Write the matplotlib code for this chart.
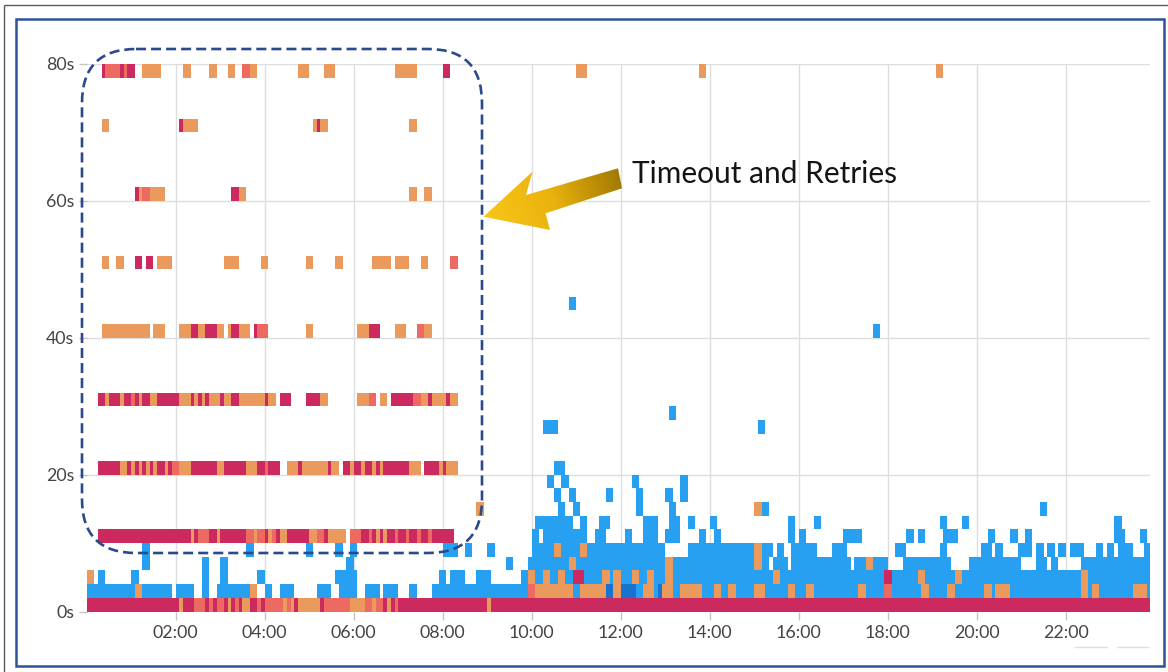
import numpy as np
import matplotlib
matplotlib.use("Agg")
import matplotlib.pyplot as plt
from matplotlib.colors import ListedColormap, BoundaryNorm, LinearSegmentedColormap
from matplotlib.patches import FancyBboxPatch, Polygon, Rectangle

# ---------------------------------------------------------------------------
# Latency heatmap: 5-minute time buckets (bin index) x 2-second latency buckets.
# Each row lists (first_bin, end_bin, level) runs; levels: b=low count (blue),
# d=low-mid (dark blue), o=mid (orange), s=high (salmon), r=highest (crimson).
# ---------------------------------------------------------------------------
BIN_MINUTES = 5
N_BINS = 288
ROW_SECONDS = 2

row_00 = [(0, 25, 'r'), (25, 26, 'o'), (26, 29, 'r'), (29, 32, 's'), (32, 33, 'r'),
          (33, 34, 's'), (34, 35, 'r'), (35, 37, 's'), (37, 38, 'r'), (38, 39, 'o'),
          (39, 40, 'r'), (40, 41, 's'), (41, 42, 'r'), (42, 44, 'o'), (44, 46, 'r'),
          (46, 47, 's'), (47, 48, 'r'), (48, 53, 's'), (53, 54, 'o'), (54, 55, 's'),
          (55, 56, 'o'), (56, 57, 'r'), (57, 63, 'o'), (63, 64, 'r'), (64, 71, 's'),
          (71, 75, 'o'), (75, 77, 's'), (77, 78, 'o'), (78, 80, 's'), (80, 81, 'r'),
          (81, 82, 'o'), (82, 83, 'r'), (83, 84, 's'), (84, 108, 'r'), (108, 109, 'o'),
          (109, 288, 'r')]

row_02 = [(0, 13, 'b'), (13, 15, 'o'), (15, 23, 'b'), (24, 29, 'b'), (31, 33, 'b'),
          (35, 44, 'b'), (44, 46, 'o'), (48, 50, 'b'), (52, 56, 'b'), (62, 66, 'b'),
          (68, 73, 'b'), (75, 79, 'b'), (80, 84, 'b'), (87, 89, 'b'), (93, 119, 'b'),
          (119, 121, 's'), (121, 131, 'o'), (131, 133, 'b'), (133, 140, 'o'),
          (140, 142, 'd'), (142, 144, 'o'), (144, 148, 'd'), (148, 150, 'b'),
          (150, 153, 'o'), (153, 154, 'b'), (154, 155, 'd'), (155, 158, 'o'),
          (158, 160, 'b'), (160, 166, 'o'), (166, 169, 'b'), (169, 171, 'o'),
          (171, 173, 'b'), (173, 175, 'o'), (175, 180, 'b'), (180, 183, 'o'),
          (183, 189, 'b'), (189, 191, 'o'), (191, 194, 'b'), (194, 196, 'o'),
          (196, 208, 'b'), (208, 210, 'o'), (210, 215, 'b'), (215, 217, 's'),
          (217, 225, 'b'), (225, 227, 'o'), (227, 232, 'b'), (232, 234, 'o'),
          (234, 242, 'b'), (242, 244, 'o'), (244, 245, 'b'), (245, 249, 'o'),
          (249, 268, 'b'), (268, 270, 'o'), (270, 271, 'b'), (271, 273, 'o'),
          (273, 282, 'b'), (282, 286, 'o'), (286, 288, 'b')]

row_04 = [(0, 2, 'o'), (3, 5, 'b'), (12, 14, 'b'), (31, 33, 'b'), (36, 38, 'b'),
          (46, 48, 'b'), (67, 73, 'b'), (95, 97, 'b'), (98, 102, 'b'), (105, 109, 'b'),
          (117, 119, 'b'), (119, 121, 'o'), (121, 123, 'b'), (123, 125, 'o'),
          (125, 127, 'b'), (127, 129, 'o'), (129, 131, 'b'), (131, 134, 'r'),
          (134, 139, 'b'), (139, 141, 'o'), (141, 142, 'b'), (142, 144, 'o'),
          (144, 147, 'b'), (147, 149, 'o'), (149, 151, 'b'), (151, 153, 'o'),
          (153, 156, 'b'), (156, 158, 'o'), (158, 185, 'b'), (185, 187, 'o'),
          (187, 215, 'b'), (215, 217, 'r'), (217, 224, 'b'), (224, 226, 'o'),
          (226, 234, 'b'), (234, 236, 'o'), (236, 268, 'b'), (268, 270, 'o'),
          (270, 288, 'b')]

row_06 = [(15, 17, 'b'), (31, 33, 'b'), (36, 38, 'b'), (70, 72, 'b'), (113, 115, 'b'),
          (119, 130, 'b'), (130, 132, 'o'), (132, 156, 'b'), (156, 158, 'o'),
          (158, 180, 'b'), (180, 182, 'o'), (182, 184, 'b'), (185, 189, 'b'),
          (190, 206, 'b'), (207, 210, 'b'), (210, 212, 'o'), (212, 216, 'b'),
          (220, 233, 'b'), (238, 252, 'b'), (256, 259, 'b'), (260, 262, 'b'),
          (268, 288, 'b')]

row_08 = [(15, 17, 'b'), (43, 45, 'b'), (59, 61, 'b'), (67, 69, 'b'), (71, 73, 'b'),
          (96, 100, 'b'), (102, 104, 'b'), (108, 110, 'b'), (120, 126, 'b'),
          (126, 128, 'o'), (128, 133, 'b'), (133, 135, 'o'), (135, 156, 'b'),
          (162, 180, 'b'), (180, 182, 'o'), (182, 185, 'b'), (186, 188, 'b'),
          (190, 197, 'b'), (201, 205, 'b'), (218, 221, 'b'), (230, 232, 'b'),
          (241, 244, 'b'), (245, 247, 'b'), (251, 255, 'b'), (256, 258, 'b'),
          (259, 261, 'b'), (262, 264, 'b'), (265, 269, 'b'), (272, 274, 'b'),
          (275, 277, 'b'), (278, 282, 'b'), (285, 288, 'b')]

row_10 = [(3, 28, 'r'), (28, 29, 'o'), (29, 30, 'r'), (30, 33, 's'), (33, 35, 'r'),
          (35, 36, 'o'), (36, 43, 'r'), (43, 45, 's'), (45, 46, 'o'), (46, 48, 's'),
          (48, 49, 'r'), (49, 50, 'o'), (50, 51, 's'), (51, 52, 'r'), (52, 54, 'o'),
          (54, 60, 'r'), (60, 62, 'o'), (62, 64, 's'), (64, 65, 'r'), (65, 70, 'o'),
          (71, 74, 's'), (74, 76, 'r'), (76, 77, 's'), (77, 78, 'r'), (78, 79, 'o'),
          (79, 80, 'r'), (80, 81, 'o'), (81, 83, 'r'), (83, 84, 's'), (84, 86, 'r'),
          (86, 87, 's'), (87, 89, 'r'), (89, 90, 's'), (90, 92, 'r'), (92, 93, 's'),
          (93, 99, 'r'),
          (120, 122, 'b'), (123, 135, 'b'), (137, 140, 'b'), (145, 147, 'b'),
          (150, 154, 'b'), (156, 160, 'b'), (165, 167, 'b'), (169, 171, 'b'),
          (189, 191, 'b'), (192, 194, 'b'), (204, 209, 'b'), (221, 223, 'b'),
          (224, 226, 'b'), (231, 235, 'b'), (243, 245, 'b'), (249, 251, 'b'),
          (253, 255, 'b'), (277, 280, 'b'), (284, 286, 'b')]

row_12 = [(121, 131, 'b'), (133, 135, 'b'), (138, 141, 'b'), (150, 154, 'b'),
          (157, 160, 'b'), (162, 164, 'b'), (168, 170, 'b'), (189, 191, 'b'),
          (196, 198, 'b'), (230, 232, 'b'), (236, 238, 'b'), (277, 279, 'b')]

row_14 = [(105, 107, 'o'), (127, 129, 'b'), (131, 133, 'b'), (148, 150, 'b'),
          (157, 159, 'b'), (180, 182, 'o'), (182, 184, 'b'), (257, 259, 'b')]

row_16 = [(126, 128, 'b'), (130, 132, 'b'), (140, 142, 'b'), (148, 150, 'b'),
          (156, 158, 'b'), (160, 162, 'b')]

row_18 = [(124, 126, 'b'), (128, 130, 'b'), (147, 149, 'b'), (160, 162, 'b')]

row_20 = [(3, 9, 'r'), (9, 11, 'o'), (11, 12, 'r'), (12, 13, 'o'), (13, 14, 'r'),
          (14, 15, 'o'), (15, 16, 'r'), (16, 17, 'o'), (17, 18, 'r'), (18, 19, 'o'),
          (19, 21, 'r'), (21, 22, 'o'), (22, 23, 'r'), (23, 25, 's'), (25, 28, 'o'),
          (28, 35, 'r'), (35, 37, 'o'), (37, 43, 'r'), (43, 46, 'o'), (46, 48, 'r'),
          (48, 49, 's'), (49, 52, 'r'), (54, 57, 'o'), (57, 58, 'r'), (58, 65, 'o'),
          (65, 66, 'r'), (66, 68, 'o'), (69, 71, 'r'), (71, 72, 'o'), (72, 74, 'r'),
          (74, 75, 'o'), (75, 77, 'r'), (77, 78, 'o'), (78, 79, 'r'), (79, 80, 'o'),
          (80, 87, 'r'), (87, 90, 'o'), (91, 95, 'r'), (95, 96, 'o'), (96, 97, 'r'),
          (97, 100, 'o'),
          (126, 129, 'b')]

row_26 = [(123, 127, 'b'), (181, 183, 'b')]

row_28 = [(157, 159, 'b')]

row_30 = [(3, 5, 'r'), (5, 6, 'o'), (6, 9, 'r'), (9, 10, 'o'), (10, 12, 'r'),
          (12, 13, 's'), (13, 14, 'r'), (14, 15, 'o'), (15, 17, 'r'), (17, 19, 'o'),
          (19, 25, 'r'), (25, 28, 'o'), (28, 29, 'r'), (29, 30, 'o'), (30, 31, 'r'),
          (31, 32, 'o'), (32, 33, 'r'), (33, 36, 'o'), (36, 37, 'r'), (37, 39, 'o'),
          (39, 41, 'r'), (41, 48, 'o'), (48, 49, 'r'), (49, 51, 'o'), (52, 55, 'r'),
          (59, 63, 'r'), (63, 65, 'o'), (73, 76, 'o'), (76, 78, 's'), (79, 81, 'o'),
          (82, 88, 'r'), (88, 90, 's'), (90, 92, 'o'), (92, 93, 'r'), (93, 97, 'o'),
          (97, 98, 'r'), (98, 100, 'o')]

row_40 = [(4, 17, 'o'), (18, 21, 'o'), (25, 28, 'o'), (28, 30, 'r'), (30, 32, 'o'),
          (32, 35, 'r'), (35, 37, 'o'), (38, 39, 'o'), (39, 41, 'r'), (41, 44, 'o'),
          (45, 46, 'r'), (46, 49, 's'), (59, 61, 'o'), (73, 76, 'o'), (76, 79, 'r'),
          (83, 86, 'o'), (89, 91, 's'), (91, 93, 'o'),
          (212, 214, 'b')]

row_44 = [(130, 132, 'b')]

row_50 = [(4, 6, 'o'), (8, 10, 'o'), (13, 15, 'r'), (16, 18, 'r'), (19, 23, 'o'),
          (37, 41, 'o'), (47, 49, 'o'), (59, 61, 'o'), (67, 69, 'o'), (77, 82, 'o'),
          (83, 87, 'o'), (90, 92, 'o'), (98, 100, 's')]

row_60 = [(13, 14, 'r'), (14, 15, 'o'), (15, 17, 's'), (17, 21, 'o'), (39, 41, 'r'),
          (41, 43, 'o'), (87, 89, 'o'), (91, 93, 'o')]

row_70 = [(4, 6, 'o'), (25, 26, 'r'), (26, 30, 'o'), (61, 62, 'o'), (62, 63, 'r'),
          (63, 65, 'o'), (87, 89, 'o')]

row_78 = [(4, 5, 'r'), (5, 9, 's'), (9, 10, 'r'), (10, 11, 's'), (11, 13, 'r'),
          (15, 20, 'o'), (26, 28, 'o'), (33, 35, 'o'), (38, 40, 'o'), (42, 44, 's'),
          (44, 46, 'o'), (57, 60, 'o'), (64, 67, 'o'), (83, 89, 'o'), (96, 98, 'r'),
          (132, 135, 'o'), (165, 167, 'o'), (229, 231, 'o')]

rows = {0: row_00, 2: row_02, 4: row_04, 6: row_06, 8: row_08, 10: row_10,
        12: row_12, 14: row_14, 16: row_16, 18: row_18, 20: row_20, 26: row_26,
        28: row_28, 30: row_30, 40: row_40, 44: row_44, 50: row_50, 60: row_60,
        70: row_70, 78: row_78}

level_codes = {'b': 1, 'd': 2, 'o': 3, 's': 4, 'r': 5}
level_colors = ['#28A0F1', '#1872CE', '#EB9A5E', '#ED6A62', '#CC295E']

y_ticks = [0, 20, 40, 60, 80]
y_tick_labels = ['0s', '20s', '40s', '60s', '80s']
x_ticks_hours = [2, 4, 6, 8, 10, 12, 14, 16, 18, 20, 22]
x_tick_labels = ['%02d:00' % h for h in x_ticks_hours]

# ---------------------------------------------------------------------------
# Build the count-level grid
# ---------------------------------------------------------------------------
n_rows = 80 // ROW_SECONDS
grid = np.zeros((n_rows, N_BINS))
for lo, runs in rows.items():
    for a, b, code in runs:
        grid[lo // ROW_SECONDS, a:b] = level_codes[code]
grid = np.ma.masked_equal(grid, 0)

x_edges = np.arange(N_BINS + 1) * BIN_MINUTES
y_edges = np.arange(n_rows + 1) * ROW_SECONDS

cmap = ListedColormap(level_colors)
norm = BoundaryNorm(np.arange(0.5, 6.5, 1.0), cmap.N)

W, H = 1168, 672
fig = plt.figure(figsize=(W / 100, H / 100), dpi=100)
fig.patch.set_facecolor('white')

ax = fig.add_axes([86.7 / W, 60.5 / H, (1149.7 - 86.7) / W, (611.5 - 64.0) / H])
ax.pcolormesh(x_edges, y_edges, grid, cmap=cmap, norm=norm,
              shading='flat', antialiased=False, linewidth=0)
ax.set_xlim(0, 1433)
ax.set_ylim(0, 80)

ax.set_xticks([h * 60 for h in x_ticks_hours])
ax.set_xticklabels(x_tick_labels)
ax.set_yticks(y_ticks)
ax.set_yticklabels(y_tick_labels)
ax.grid(True, color='#DEDEDE', linewidth=1.0)
ax.set_axisbelow(True)
for sp in ax.spines.values():
    sp.set_visible(False)
ax.tick_params(axis='both', length=6, width=1, color='#C4C4C4',
               labelcolor='#444444', labelsize=12.8)
ax.tick_params(axis='y', pad=3)
ax.tick_params(axis='x', pad=4)
for lab in ax.get_xticklabels() + ax.get_yticklabels():
    lab.set_family(['Lato', 'DejaVu Sans'])

# ---------------------------------------------------------------------------
# Overlay in pixel coordinates: frames, callout box, arrow and caption
# ---------------------------------------------------------------------------
ov = fig.add_axes([0, 0, 1, 1], zorder=5)
ov.set_xlim(0, W)
ov.set_ylim(H, 0)
ov.axis('off')
ov.patch.set_alpha(0)

# thin grey outer border (top and left) and blue frame
ov.plot([4, W], [5, 5], color='#5A5A5A', lw=1.0, solid_capstyle='butt')
ov.plot([4, 4], [5, H], color='#5A5A5A', lw=1.0, solid_capstyle='butt')
ov.add_patch(Rectangle((16.2, 18.7), 1147.6, 647.6, fill=False,
                       edgecolor='#2E5395', lw=1.8))
ov.plot([1075, 1107], [647, 647], color='#D2E2F2', lw=1.0)
ov.plot([1117, 1148], [647, 647], color='#D2E2F2', lw=1.0)

# dashed callout box around the timeout/retry bands
ov.add_patch(FancyBboxPatch((82, 49), 400, 504,
                            boxstyle='round,pad=0,rounding_size=54',
                            fill=False, edgecolor='#2A4A8C', lw=1.9,
                            linestyle=(0, (3.8, 1.9))))

# gold block arrow with a gradient fill
arrow_pts = [(483.5, 216.7), (532.5, 171.7), (526.0, 195.0), (618.0, 168.3),
             (622.0, 188.3), (545.6, 213.3), (550.0, 230.0)]
arrow = Polygon(arrow_pts, closed=True, facecolor='none', edgecolor='none')
ov.add_patch(arrow)
gx = np.linspace(478, 626, 300)
gy = np.linspace(164, 234, 150)
GX, GY = np.meshgrid(gx, gy)
tip = np.array([483.5, 216.7])
tail = np.array([620.0, 175.0])
d = tail - tip
t = np.clip(((GX - tip[0]) * d[0] + (GY - tip[1]) * d[1]) / (d @ d), 0, 1)
gold = LinearSegmentedColormap.from_list('gold', ['#F8C718', '#EAB20E', '#A27A02'])
im = ov.imshow(t, extent=(478, 626, 234, 164), cmap=gold, origin='upper',
               aspect='auto', interpolation='bilinear', zorder=6)
im.set_clip_path(arrow)
ov.set_xlim(0, W)
ov.set_ylim(H, 0)

ov.text(632, 174, 'Timeout and Retries', fontsize=21.5, family=['Lato', 'DejaVu Sans'],
        color='#141414', ha='left', va='center')

fig.savefig('out.png', dpi=100, facecolor='white')
